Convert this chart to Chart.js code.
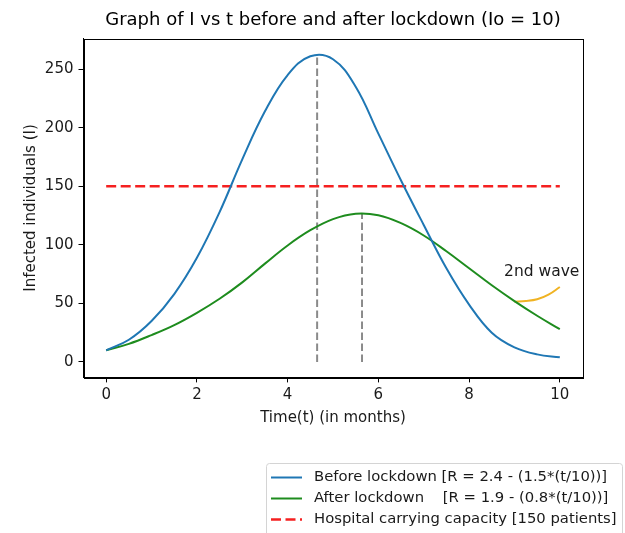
<!DOCTYPE html>
<html>
<head>
<meta charset="utf-8">
<script src="https://cdn.jsdelivr.net/npm/chart.js@4/dist/chart.umd.min.js"></script>
<style>
  html, body { margin: 0; padding: 0; background: #ffffff; }
  #wrap { width: 625px; height: 533px; }
</style>
</head>
<body>
<div id="wrap"><canvas id="c" width="625" height="533"></canvas></div>
<script>
// ---- data ----
const beforeT = [0, 0.5, 1, 1.5, 2, 2.5, 3, 3.5, 4, 4.5, 5, 5.5, 6, 6.5, 7, 7.5, 8, 8.5, 9, 9.5, 10];
const beforeI = [10, 19, 35, 58, 89, 128, 173, 214, 245, 261, 258.5, 235, 195, 155, 117, 80, 49, 25, 12.5, 6.5, 4];

const afterT = [0, 0.5, 1, 1.5, 2, 2.5, 3, 3.5, 4, 4.5, 5, 5.5, 6, 6.5, 7, 7.5, 8, 8.5, 9, 9.5, 10];
const afterI = [10, 15.5, 23, 31.5, 42, 54, 68, 84, 99.5, 112.5, 122, 126.6, 125.3, 118.5, 108, 94.5, 80, 65.5, 52, 39.5, 28];

const waveT = [9.0, 9.25, 9.5, 9.75, 10];
const waveI = [51.5, 52, 53.5, 57.5, 64];

const capacityT = [0, 10];
const capacityI = [150, 150];

const peakT = [4.65, 5.64];
const peakI = [263, 127];

const xTicks = [0, 2, 4, 6, 8, 10];
const yTicks = [0, 50, 100, 150, 200, 250];

const seriesLabels = [
  "Before lockdown [R = 2.4 - (1.5*(t/10))]",
  "After lockdown    [R = 1.9 - (0.8*(t/10))]",
  "Hospital carrying capacity [150 patients]"
];
const chartTitle = "Graph of I vs t before and after lockdown (Io = 10)";
const xTitle = "Time(t) (in months)";
const yTitle = "Infected individuals (I)";
const waveLabel = "2nd wave";
const waveLabelPos = [8.77, 73.4];

// ---- build datasets ----
const pts = (xs, ys) => xs.map((x, i) => ({ x: x, y: ys[i] }));
const FONT = "'DejaVu Sans', 'Liberation Sans', sans-serif";
const BLUE = '#1f77b4', GREEN = '#1e8c1e', RED = '#f52020', GRAY = '#8a8a8a', GOLD = '#f0b323';

const datasets = [
  { label: seriesLabels[0], data: pts(beforeT, beforeI), borderColor: BLUE, borderWidth: 2, tension: 0.4 },
  { label: seriesLabels[1], data: pts(afterT, afterI), borderColor: GREEN, borderWidth: 2, tension: 0.4 },
  { label: seriesLabels[2], data: pts(capacityT, capacityI), borderColor: RED, borderWidth: 2.6, borderDash: [10, 4.5] },
  { label: 'peak1', data: pts([peakT[0], peakT[0]], [0, peakI[0]]), borderColor: GRAY, borderWidth: 2, borderDash: [7.5, 3.5] },
  { label: 'peak2', data: pts([peakT[1], peakT[1]], [0, peakI[1]]), borderColor: GRAY, borderWidth: 2, borderDash: [7.5, 3.5] },
  { label: 'wave', data: pts(waveT, waveI), borderColor: GOLD, borderWidth: 2, tension: 0.4 }
];
datasets.forEach(d => { d.pointRadius = 0; d.fill = false; d.backgroundColor = d.borderColor; });

// ---- plugins ----
const frame = {
  id: 'frame',
  afterDatasetsDraw(chart) {
    const { ctx, chartArea: a } = chart;
    ctx.save();
    ctx.strokeStyle = '#000';
    ctx.lineWidth = 1;
    ctx.strokeRect(Math.round(a.left) + 0.5, Math.round(a.top) + 0.5, Math.round(a.right - a.left), Math.round(a.bottom - a.top));
    const xs = chart.scales.x, ys = chart.scales.y;
    ctx.fillStyle = '#1a1a1a';
    ctx.font = "15.5px " + FONT;
    ctx.textAlign = 'left';
    ctx.textBaseline = 'alphabetic';
    ctx.fillText(waveLabel, xs.getPixelForValue(waveLabelPos[0]), ys.getPixelForValue(waveLabelPos[1]));
    ctx.restore();
  }
};

const legendBox = {
  id: 'legendBox',
  afterDraw(chart) {
    const { ctx } = chart;
    ctx.save();
    const bx = 266.5, by = 463.5, bw = 356, bh = 80;
    ctx.fillStyle = 'rgba(255,255,255,0.85)';
    ctx.strokeStyle = '#d4d4d4';
    ctx.lineWidth = 1;
    ctx.beginPath();
    ctx.roundRect(bx, by, bw, bh, 3);
    ctx.fill();
    ctx.stroke();
    const rows = [477.5, 498.5, 519.5];
    for (let i = 0; i < 3; i++) {
      const d = chart.data.datasets[i];
      ctx.strokeStyle = d.borderColor;
      ctx.lineWidth = d.borderWidth;
      ctx.setLineDash(d.borderDash || []);
      ctx.beginPath();
      ctx.moveTo(271, rows[i]);
      ctx.lineTo(302, rows[i]);
      ctx.stroke();
      ctx.setLineDash([]);
      ctx.fillStyle = '#1a1a1a';
      ctx.font = "14.8px " + FONT;
      ctx.textAlign = 'left';
      ctx.textBaseline = 'middle';
      ctx.fillText(d.label, 314, rows[i]);
    }
    ctx.restore();
  }
};

new Chart(document.getElementById('c'), {
  type: 'line',
  data: { datasets: datasets },
  plugins: [frame, legendBox],
  options: {
    responsive: false,
    animation: false,
    devicePixelRatio: 1,
    layout: { padding: { left: 0, right: 42.5, top: 0, bottom: 95.6 } },
    plugins: {
      legend: { display: false },
      tooltip: { enabled: false },
      title: {
        display: true,
        text: chartTitle,
        fullSize: false,
        color: '#000',
        font: { family: FONT, size: 18, weight: 'normal' },
        padding: { top: 9.2, bottom: 7.8 }
      }
    },
    scales: {
      x: {
        type: 'linear',
        min: -0.5, max: 10.5,
        afterFit(s) { s.height = 60; },
        afterBuildTicks(s) { s.ticks = xTicks.map(v => ({ value: v })); },
        ticks: { color: '#1a1a1a', font: { family: FONT, size: 15 }, padding: 4, maxRotation: 0 },
        grid: { drawOnChartArea: false, drawTicks: true, tickLength: 5, color: '#000' },
        border: { display: true, color: '#000', width: 1 },
        title: { display: true, text: xTitle, color: '#1a1a1a', font: { family: FONT, size: 15 }, padding: { top: 0, bottom: 10.5 } }
      },
      y: {
        type: 'linear',
        min: -13.15, max: 276.1,
        afterFit(s) { s.width = 83.5; },
        afterBuildTicks(s) { s.ticks = yTicks.map(v => ({ value: v })); },
        ticks: { color: '#1a1a1a', font: { family: FONT, size: 15 }, padding: 5 },
        grid: { drawOnChartArea: false, drawTicks: true, tickLength: 5, color: '#000' },
        border: { display: true, color: '#000', width: 1 },
        title: { display: true, text: yTitle, color: '#1a1a1a', font: { family: FONT, size: 15 }, padding: { top: 22.5, bottom: 0 } }
      }
    }
  }
});
</script>
</body>
</html>
